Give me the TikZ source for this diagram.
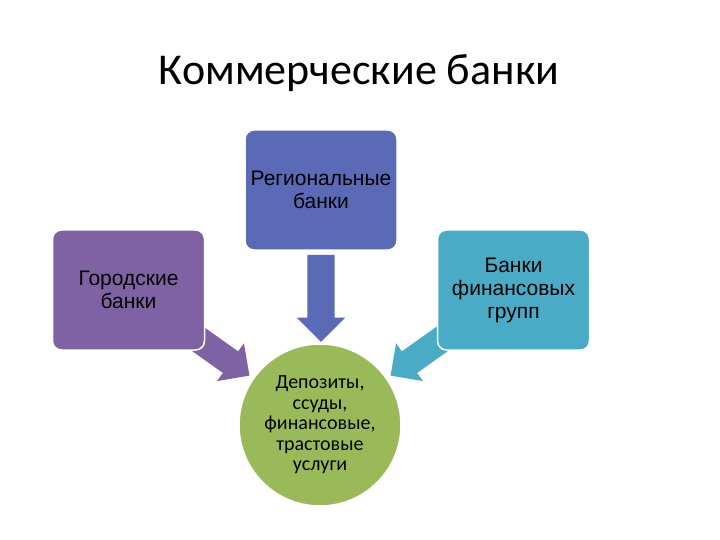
\documentclass[tikz,border=0pt]{standalone}
\usepackage{fontspec}
\setmainfont{Carlito}
\newfontfamily\boxfont{Liberation Sans}
\usetikzlibrary{shapes.arrows}
\definecolor{cblue}{HTML}{5A6AB6}
\definecolor{cpurple}{HTML}{7E62A3}
\definecolor{cteal}{HTML}{4AABC6}
\definecolor{cgreen}{HTML}{9ABA59}
\tikzset{
  boxnode/.style={draw=white, line width=1.5pt, rounded corners=9pt, minimum width=152pt, minimum height=120pt, inner sep=0pt, align=center, font=\boxfont\fontsize{21}{23}\selectfont, text=black},
  blockarrow/.style={single arrow, single arrow head indent=0pt, single arrow tip angle=90, inner xsep=0pt, draw=none}
}
\begin{document}
\begin{tikzpicture}[x=1pt,y=-1pt]
\useasboundingbox (0,0) rectangle (720,540);
\fill[white] (0,0) rectangle (720,540);
% title
\node[anchor=base, font=\fontsize{44}{50}\selectfont] (title) at (359,85) {Коммерческие банки};
% arrows (behind boxes)
\node[blockarrow, fill=cblue, minimum height=87pt, inner ysep=13.5pt, single arrow head extend=10.5pt, rotate=-90] (adown) at (321,291.5) {};
\node[blockarrow, fill=cpurple, minimum height=70pt, inner ysep=13pt, single arrow head extend=10pt, rotate=-35.4] (aleft) at (215.5,351.5) {};
\node[blockarrow, fill=cteal, minimum height=70pt, inner ysep=13pt, single arrow head extend=10pt, rotate=-144.6] (aright) at (424.5,351.5) {};
% boxes
\node[boxnode, fill=cblue] (reg) at (321,190) {Региональные\\банки};
\node[boxnode, fill=cpurple] (city) at (128.5,290) {Городские\\банки};
\node[boxnode, fill=cteal] (fin) at (513.5,290) {Банки\\финансовых\\групп};
% circle
\node[circle, fill=cgreen, draw=white, line width=1.5pt, minimum size=162pt, inner sep=0pt, align=center, font=\fontsize{20}{20.5}\selectfont] (serv) at (320,425) {Депозиты,\\ссуды,\\финансовые,\\трастовые\\услуги};
\end{tikzpicture}
\end{document}
